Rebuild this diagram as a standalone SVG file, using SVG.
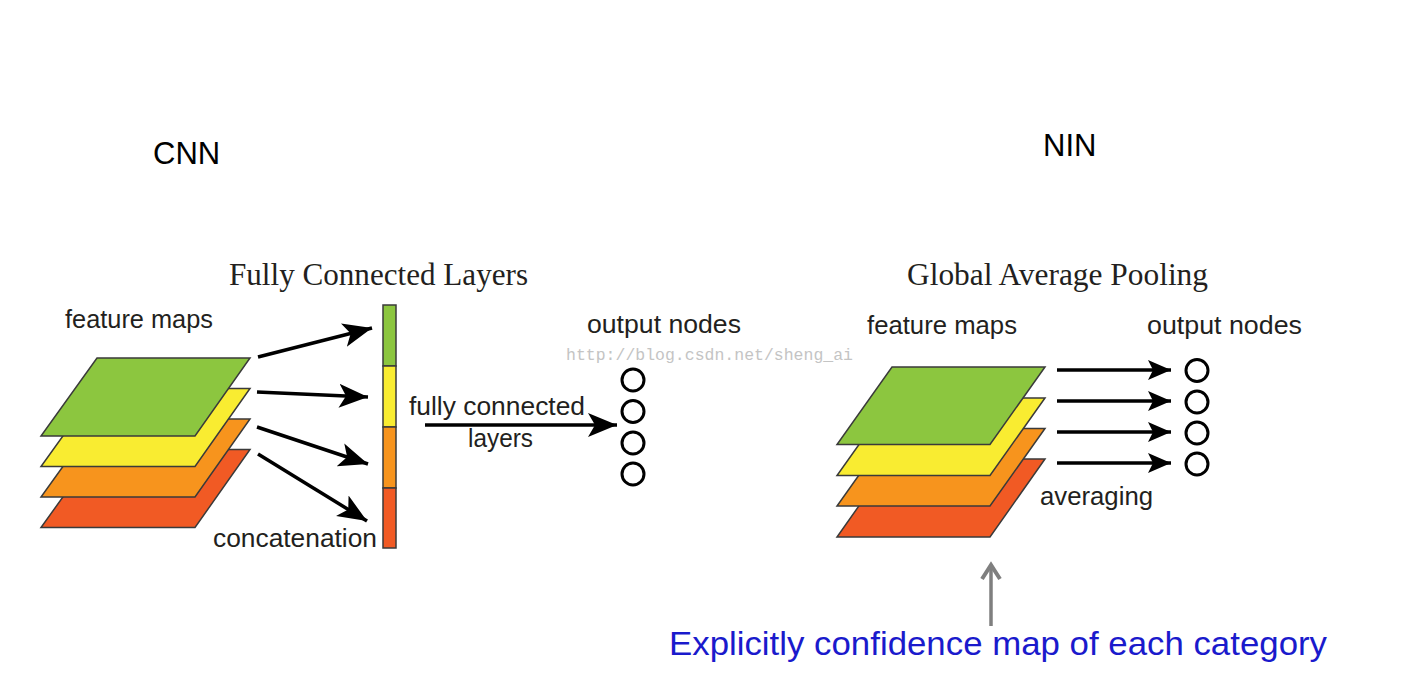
<svg xmlns="http://www.w3.org/2000/svg" width="1402" height="687" viewBox="0 0 1402 687">
<style>
.lbl{font-family:"Liberation Sans",Arial,sans-serif;font-size:25.5px;fill:#231f20}
.ttl{font-family:"Liberation Serif","Times New Roman",serif;font-size:31px;fill:#231f20}
.hdr{font-family:"Liberation Sans",Arial,sans-serif;font-size:31px;fill:#000}
.g{fill:#8cc63f}.y{fill:#f9ec31}.o{fill:#f7941d}.r{fill:#f15a24}
.layer{stroke:#3a3a3a;stroke-width:1.5;stroke-linejoin:miter}
.arr{stroke:#000;stroke-width:3.5;fill:none;marker-end:url(#ah)}
.arr2{stroke:#000;stroke-width:3.5;fill:none;marker-end:url(#ah2)}
.node{fill:#fff;stroke:#000;stroke-width:3}
</style>
<defs>
<marker id="ah" markerUnits="userSpaceOnUse" markerWidth="30" markerHeight="26" viewBox="0 0 30 26" refX="29" refY="13" orient="auto">
<path d="M0,1 L29,13 L0,25 L7,13 Z" fill="#000"/>
</marker>
<marker id="ah2" markerUnits="userSpaceOnUse" markerWidth="24" markerHeight="22" viewBox="0 0 24 22" refX="23" refY="11" orient="auto">
<path d="M0,1 L23,11 L0,21 L5,11 Z" fill="#000"/>
</marker>
</defs>
<rect width="1402" height="687" fill="#fff"/>

<text class="hdr" x="153" y="164">CNN</text>
<text class="hdr" x="1043" y="156">NIN</text>

<g id="cnn-title"><text class="ttl" x="229" y="285" textLength="299" lengthAdjust="spacingAndGlyphs">Fully Connected Layers</text></g>
<g id="cnn-feature-maps">
<text class="lbl" x="65" y="328" textLength="148" lengthAdjust="spacingAndGlyphs">feature maps</text>
<polygon class="layer r" points="97,449.5 250,449.5 195,527.5 41,527.5"/>
<polygon class="layer o" points="97,419 250,419 195,497 41,497"/>
<polygon class="layer y" points="97,388.5 250,388.5 195,466.5 41,466.5"/>
<polygon class="layer g" points="97,358 250,358 195,436 41,436"/>
</g>
<g id="cnn-concat">
<rect class="layer g" x="383" y="305" width="13" height="61"/>
<rect class="layer y" x="383" y="366" width="13" height="61"/>
<rect class="layer o" x="383" y="427" width="13" height="61"/>
<rect class="layer r" x="383" y="488" width="13" height="60"/>
<text class="lbl" x="213" y="547" textLength="164" lengthAdjust="spacingAndGlyphs">concatenation</text>
</g>
<g id="cnn-output">
<text class="lbl" x="587" y="333" textLength="154" lengthAdjust="spacingAndGlyphs">output nodes</text>
<circle class="node" cx="633" cy="380" r="11"/>
<circle class="node" cx="633" cy="411.5" r="11"/>
<circle class="node" cx="633" cy="443" r="11"/>
<circle class="node" cx="633" cy="474" r="11"/>
</g>
<g id="cnn-fc-label">
<text class="lbl" x="409" y="415" textLength="176" lengthAdjust="spacingAndGlyphs">fully connected</text>
<text class="lbl" x="468" y="447" textLength="65" lengthAdjust="spacingAndGlyphs">layers</text>
</g>

<text x="566" y="360" font-family="Liberation Mono,'Courier New',monospace" font-size="16.5" fill="#c4c4c4" textLength="287" lengthAdjust="spacingAndGlyphs">http://blog.csdn.net/sheng_ai</text>

<g id="nin-title"><text class="ttl" x="907" y="285" textLength="301" lengthAdjust="spacingAndGlyphs">Global Average Pooling</text></g>
<g id="nin-feature-maps">
<text class="lbl" x="867" y="334" textLength="150" lengthAdjust="spacingAndGlyphs">feature maps</text>
<polygon class="layer r" points="892,459 1045,459 990,537 837,537"/>
<polygon class="layer o" points="892,428.5 1045,428.5 990,506 837,506"/>
<polygon class="layer y" points="892,398 1045,398 990,475.5 837,475.5"/>
<polygon class="layer g" points="892,367 1045,367 990,444.5 837,444.5"/>
</g>
<g id="nin-output">
<text class="lbl" x="1147" y="334" textLength="155" lengthAdjust="spacingAndGlyphs">output nodes</text>
<circle class="node" cx="1197" cy="370.5" r="11"/>
<circle class="node" cx="1197" cy="402" r="11"/>
<circle class="node" cx="1197" cy="433" r="11"/>
<circle class="node" cx="1197" cy="464" r="11"/>
</g>
<g id="nin-avg-label"><text class="lbl" x="1040" y="505" textLength="113" lengthAdjust="spacingAndGlyphs">averaging</text></g>

<g id="connectors">
<line class="arr" x1="258" y1="357" x2="372" y2="328"/>
<line class="arr" x1="257" y1="392" x2="368" y2="397"/>
<line class="arr" x1="257" y1="427" x2="368" y2="464"/>
<line class="arr" x1="258" y1="454" x2="367" y2="521"/>
<line class="arr" x1="425" y1="425" x2="617" y2="425"/>
<line class="arr2" x1="1057" y1="370" x2="1171" y2="370"/>
<line class="arr2" x1="1057" y1="401" x2="1171" y2="401"/>
<line class="arr2" x1="1057" y1="432" x2="1171" y2="432"/>
<line class="arr2" x1="1057" y1="463" x2="1171" y2="463"/>
<line x1="991" y1="626" x2="991" y2="565" stroke="#7f7f7f" stroke-width="3.5"/>
<polyline points="982,579 991,565 1000,579" fill="none" stroke="#7f7f7f" stroke-width="4" stroke-linejoin="miter"/>
</g>

<text x="669" y="655" font-family="Liberation Sans,Arial,sans-serif" font-size="33" fill="#1a1acc" textLength="658" lengthAdjust="spacingAndGlyphs">Explicitly confidence map of each category</text>
</svg>
